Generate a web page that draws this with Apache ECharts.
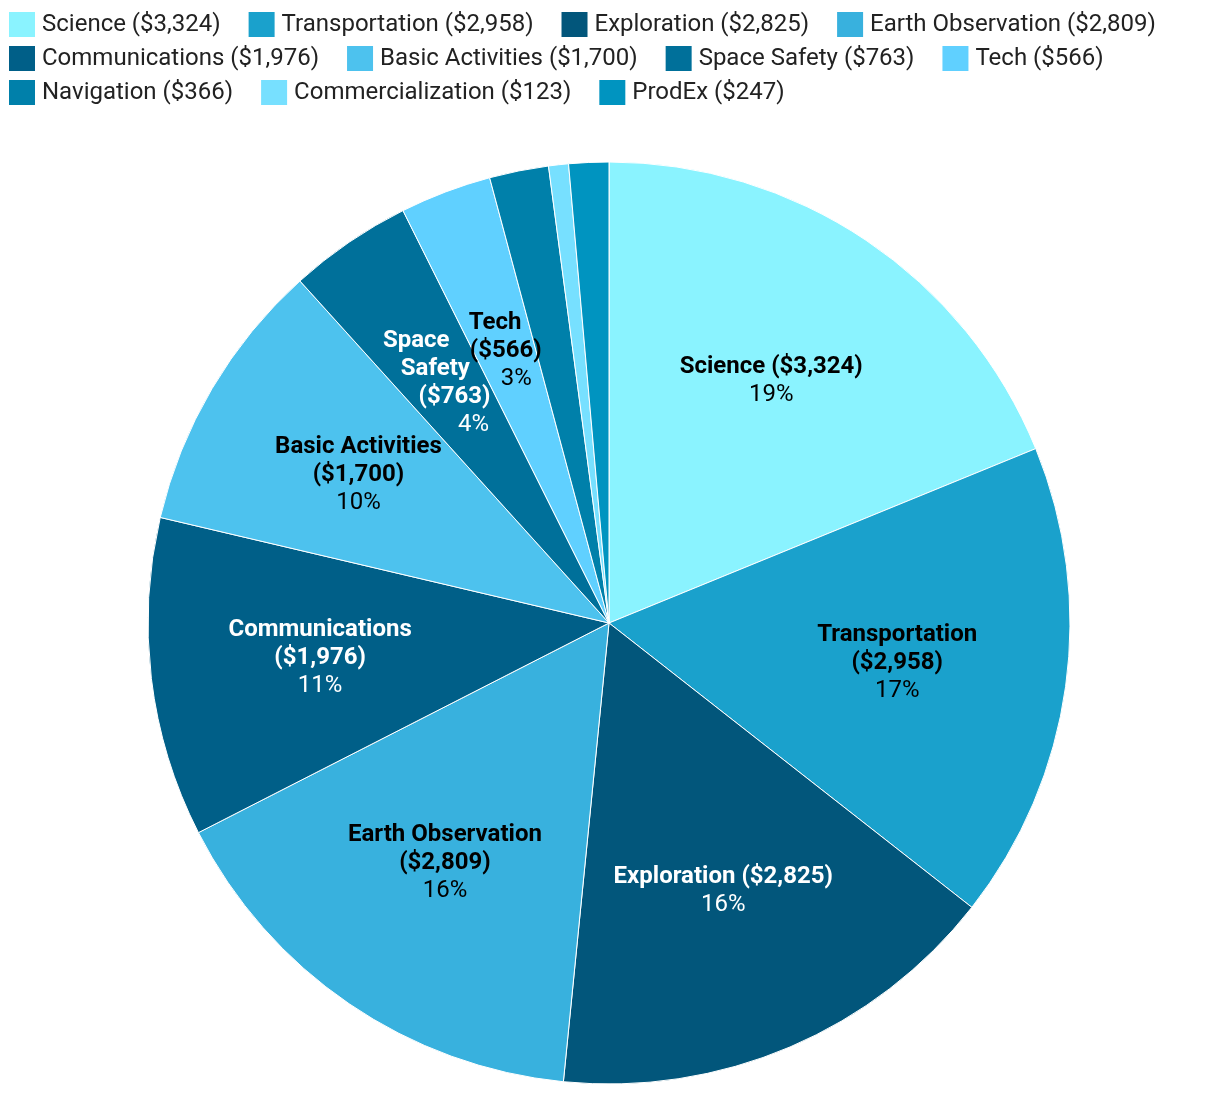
<!DOCTYPE html>
<html><head><meta charset="utf-8">
<script src="https://cdn.jsdelivr.net/npm/echarts@6/dist/echarts.min.js"></script>
<style>html,body{margin:0;padding:0;background:#fff}#c{width:1220px;height:1096px}</style>
</head><body><div id="c"></div>
<script>
const categories = ['Science','Transportation','Exploration','Earth Observation','Communications','Basic Activities','Space Safety','Tech','Navigation','Commercialization','ProdEx'];
const values = [3324,2958,2825,2809,1976,1700,763,566,366,123,247];
const sliceLabels = ['Science ($3,324)','Transportation\n($2,958)','Exploration ($2,825)','Earth Observation\n($2,809)','Communications\n($1,976)','Basic Activities\n($1,700)','Space\nSafety\n($763)','Tech\n($566)','','',''];
const colors = ['#8AF3FF','#1AA1CC','#02567B','#38B1DE','#005F88','#4DC2EE','#00709A','#60D0FF','#0080AA','#77E0FF','#0094C0'];
const darkSlices = ['Exploration','Communications','Space Safety'];

const fmt = n => '$' + n.toLocaleString('en-US');
const legendNames = categories.map((c,i)=> c + ' (' + fmt(values[i]) + ')');

const total = values.reduce((a,b)=>a+b,0);
const LINE_H = 28;
// mid-angle of each slice (clockwise from 12 o'clock), used to slant lines of labels in narrow slices
function midAngle(i){
  let before = 0; for (let k=0;k<i;k++) before += values[k];
  return (before + values[i]/2) / total * 2 * Math.PI;
}

const chart = echarts.init(document.getElementById('c'));
const center = [609, 623];
const R = 461;

const baseData = categories.map((c,i)=>({name: legendNames[i], value: values[i], itemStyle:{color: colors[i]}}));

const labelData = categories.map((c,i)=>{
  const col = darkSlices.includes(c) ? '#ffffff' : '#000000';
  const lines = sliceLabels[i] === '' ? [] : sliceLabels[i].split('\n');
  const n = lines.length + 1;
  const narrow = values[i] / total < 0.05;
  const th = midAngle(i);
  const slope = narrow ? (-Math.sin(th) / Math.cos(th)) * LINE_H : 0;
  const rich = {};
  const parts = [];
  for (let j=0;j<n;j++){
    const off = slope * (j - (n-1)/2);
    const pad = off >= 0 ? [0,0,0,2*off] : [0,-2*off,0,0];
    const bold = j < n-1;
    rich['l'+j] = {fontWeight: bold ? 'bold':'normal', fontSize:24, lineHeight:LINE_H, fontFamily:'Roboto', color: col, padding: pad};
    const txt = bold ? lines[j] : (Math.round(values[i]/total*100) + '%');
    parts.push('{l'+j+'|'+txt+'}');
  }
  return {
    name: legendNames[i], value: values[i],
    itemStyle:{color:'rgba(0,0,0,0)', borderWidth:0},
    label:{show: lines.length > 0, formatter: parts.join('\n'), rich: rich}
  };
});

chart.setOption({
  animation:false,
  textStyle:{fontFamily:'Roboto'},
  legend:{
    data: legendNames, left: 2, top: 5, width: 1210,
    itemWidth: 28, itemHeight: 27, itemGap: 5,
    icon:'rect',
    formatter: name => '{t|' + name + '}',
    textStyle:{fontSize:24, color:'#222', fontFamily:'Roboto', lineHeight:27,
      rich:{t:{fontSize:24, color:'#222', fontFamily:'Roboto', lineHeight:27, padding:[0,21,0,1]}}}
  },
  series:[
    {type:'pie', center: center, radius:[0,R], startAngle:90, clockwise:true,
     data: baseData, label:{show:false}, labelLine:{show:false},
     itemStyle:{borderColor:'#fff', borderWidth:1}, emphasis:{disabled:true}},
    {type:'pie', center: center, radius:[115,R], startAngle:90, clockwise:true, silent:true,
     avoidLabelOverlap:false, labelLayout:{hideOverlap:false},
     data: labelData, labelLine:{show:false},
     label:{position:'inside', align:'center'},
     emphasis:{disabled:true}}
  ]
});
</script></body></html>
